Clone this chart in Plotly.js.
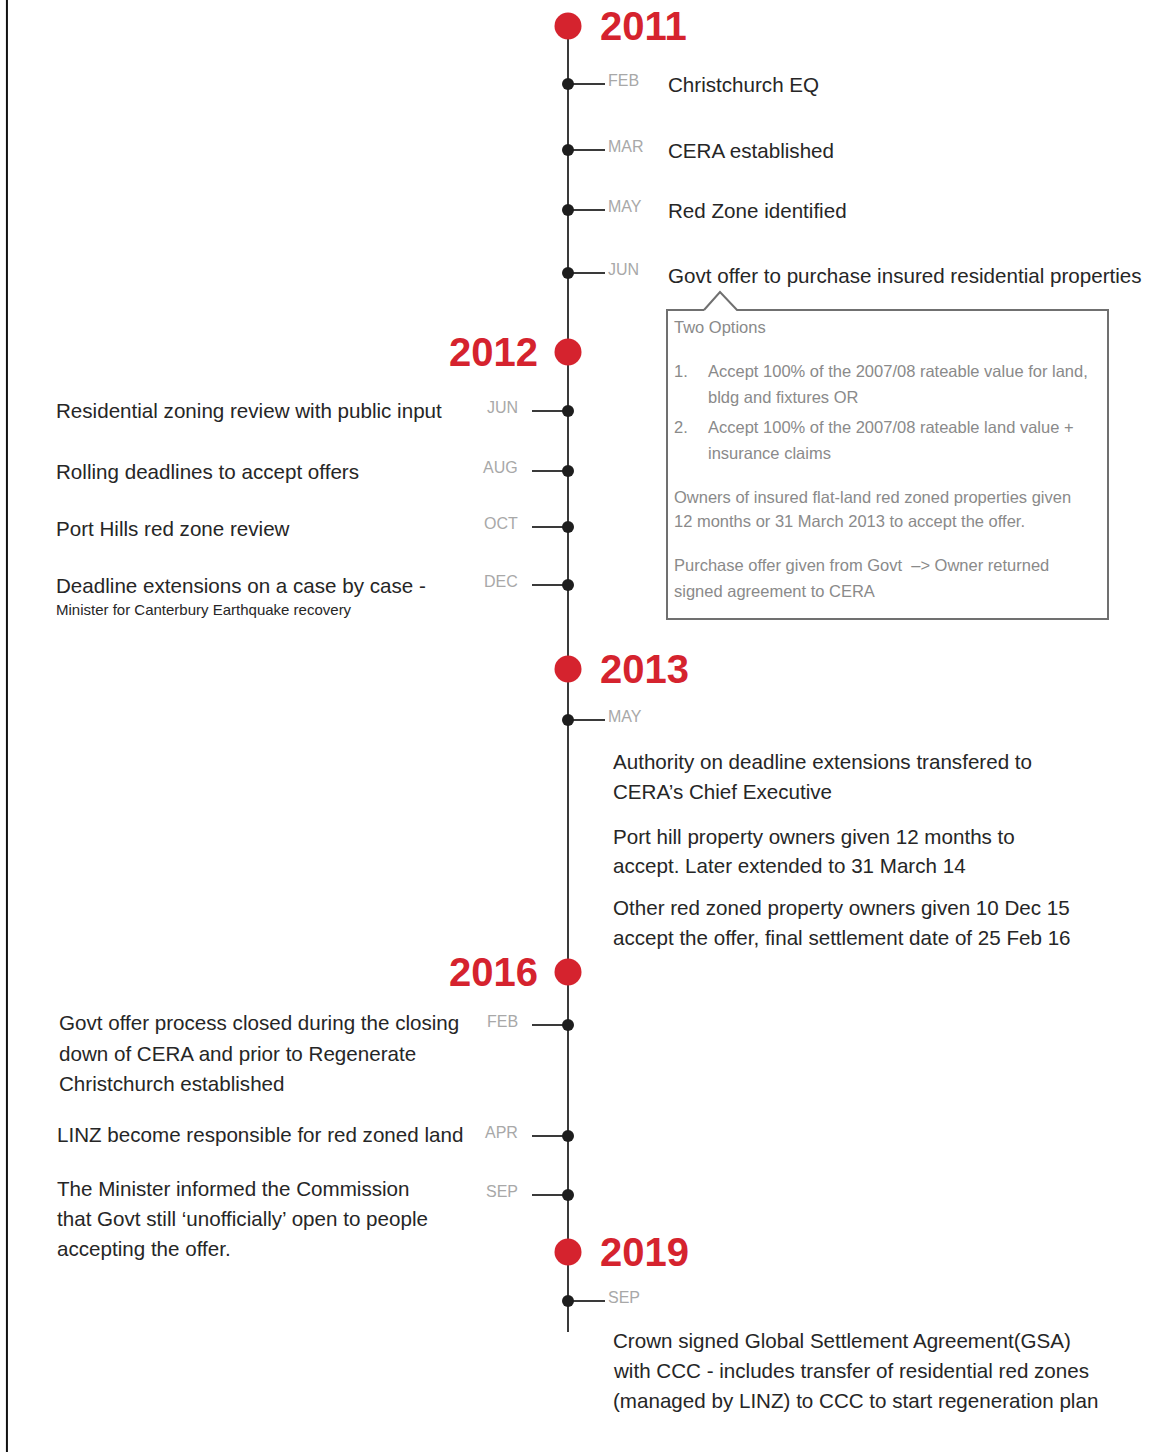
<!DOCTYPE html>
<html><head><meta charset="utf-8">
<script src="https://cdn.plot.ly/plotly-3.0.1.min.js"></script>
<style>html,body{margin:0;padding:0;background:#fff}#chart{width:1156px;height:1452px}</style>
</head><body><div id="chart"></div>
<script>
// ---------- data ----------
const years = ['2011', '2012', '2013', '2016', '2019'];
const eventYears = ['2011','2011','2011','2011','2012','2012','2012','2012','2013','2016','2016','2016','2019'];
const eventMonths = ['FEB','MAR','MAY','JUN','JUN','AUG','OCT','DEC','MAY','FEB','APR','SEP','SEP'];
const eventTexts = [
  ['Christchurch EQ'],
  ['CERA established'],
  ['Red Zone identified'],
  ['Govt offer to purchase insured residential properties'],
  ['Residential zoning review with public input'],
  ['Rolling deadlines to accept offers'],
  ['Port Hills red zone review'],
  ['Deadline extensions on a case by case -'],
  ['Authority on deadline extensions transfered to', 'CERA’s Chief Executive',
   'Port hill property owners given 12 months to', 'accept. Later extended to 31 March 14',
   'Other red zoned property owners given 10 Dec 15', 'accept the offer, final settlement date of 25 Feb 16'],
  ['Govt offer process closed during the closing', 'down of CERA and prior to Regenerate', 'Christchurch established'],
  ['LINZ become responsible for red zoned land'],
  ['The Minister informed the Commission', 'that Govt still ‘unofficially’ open to people', 'accepting the offer.'],
  ['Crown signed Global Settlement Agreement(GSA)', 'with CCC - includes transfer of residential red zones',
   '(managed by LINZ) to CCC to start regeneration plan']
];
const eventSubText = ['', '', '', '', '', '', '', 'Minister for Canterbury Earthquake recovery', '', '', '', '', ''];
const calloutLines = [
  'Two Options',
  '1.', 'Accept 100% of the 2007/08 rateable value for land,', 'bldg and fixtures OR',
  '2.', 'Accept 100% of the 2007/08 rateable land value +', 'insurance claims',
  'Owners of insured flat-land red zoned properties given', '12 months or 31 March 2013 to accept the offer.',
  'Purchase offer given from Govt  –> Owner returned', 'signed agreement to CERA'
];

// ---------- layout geometry (pixels) ----------
const AXIS_X = 568;
const yearRowY = [26, 352, 669, 972, 1252];
const yearSide = ['right', 'left', 'right', 'left', 'right'];
const lineEndY = 1332;
const eventTickY = [84, 150, 210, 273, 411, 471, 527, 585, 720, 1025, 1136, 1195, 1301];
const eventTextX = [666, 666, 666, 666, 54, 54, 54, 54, 611, 57, 55, 55, 611];
const eventTextY = [[84], [150], [210], [275], [410], [471], [528], [585],
                    [761, 791, 836, 865, 907, 937], [1022, 1053, 1083], [1134], [1188, 1218, 1248],
                    [1340, 1370, 1400]];
const subTextY = 609;
const calloutX = [672, 672, 706, 706, 672, 706, 706, 672, 672, 672, 672];
const calloutY = [327, 371, 371, 397, 427, 427, 453, 497, 521, 565, 591];
const box = {x0: 667, x1: 1108, y0: 310, y1: 619, px0: 704, pxA: 720, px1: 737, pyA: 292};

// ---------- styles ----------
const FONT = '"Liberation Sans", Arial, sans-serif';
const RED = '#d5232e';
const DARK = '#262626';
const LINE = '#3a3a3a';
const MONTHC = '#a8a8a8';
const BOXTXT = '#8a8a8a';

const sideOf = y => yearSide[years.indexOf(y)];

// timeline spine
const traces = [];
traces.push({x: [AXIS_X, AXIS_X], y: [yearRowY[0], lineEndY], mode: 'lines',
  line: {color: LINE, width: 2}, hoverinfo: 'skip'});

// month ticks
const tx = [], ty = [];
eventMonths.forEach((m, i) => {
  const s = sideOf(eventYears[i]);
  const len = s === 'right' ? 37 : -36;
  tx.push(AXIS_X, AXIS_X + len, null);
  ty.push(eventTickY[i], eventTickY[i], null);
});
traces.push({x: tx, y: ty, mode: 'lines', line: {color: LINE, width: 2}, hoverinfo: 'skip'});
traces.push({x: eventMonths.map(() => AXIS_X), y: eventTickY, mode: 'markers',
  marker: {color: '#1e1e1e', size: 12}, hoverinfo: 'skip'});
traces.push({x: years.map(() => AXIS_X), y: yearRowY, mode: 'markers',
  marker: {color: RED, size: 27}, hoverinfo: 'skip'});

// callout box
traces.push({x: [box.px0, box.pxA, box.px1, box.x1, box.x1, box.x0, box.x0, box.px0],
  y: [box.y0, box.pyA, box.y0, box.y0, box.y1, box.y1, box.y0, box.y0],
  mode: 'lines', fill: 'toself', fillcolor: '#ffffff', line: {color: '#707070', width: 2}, hoverinfo: 'skip'});

const ann = [];
years.forEach((yr, i) => {
  const right = yearSide[i] === 'right';
  ann.push({x: right ? AXIS_X + 30 : AXIS_X - 28, y: yearRowY[i], text: '<b>' + yr + '</b>',
    xanchor: right ? 'left' : 'right', yanchor: 'middle', showarrow: false,
    font: {family: FONT, size: 40, color: RED}});
});
eventMonths.forEach((m, i) => {
  const right = sideOf(eventYears[i]) === 'right';
  ann.push({x: right ? AXIS_X + 38 : AXIS_X - 48, y: eventTickY[i] - 4, text: m,
    xanchor: right ? 'left' : 'right', yanchor: 'middle', showarrow: false,
    font: {family: FONT, size: 16, color: MONTHC}});
  eventTexts[i].forEach((line, j) => {
    ann.push({x: eventTextX[i], y: eventTextY[i][j], text: line,
      xanchor: 'left', yanchor: 'middle', align: 'left', showarrow: false,
      font: {family: FONT, size: 20.6, color: DARK}});
  });
  if (eventSubText[i]) {
    ann.push({x: eventTextX[i], y: subTextY, text: eventSubText[i], xanchor: 'left', yanchor: 'middle',
      showarrow: false, font: {family: FONT, size: 15, color: DARK}});
  }
});
calloutLines.forEach((t, i) => {
  ann.push({x: calloutX[i], y: calloutY[i], text: t, xanchor: 'left', yanchor: 'middle', showarrow: false,
    font: {family: FONT, size: 16.5, color: BOXTXT}});
});

const layout = {
  width: 1156, height: 1452, margin: {l: 0, r: 0, t: 0, b: 0},
  paper_bgcolor: '#ffffff', plot_bgcolor: '#ffffff', showlegend: false,
  xaxis: {range: [0, 1156], visible: false, fixedrange: true},
  yaxis: {range: [1452, 0], visible: false, fixedrange: true},
  annotations: ann,
  shapes: [{type: 'line', xref: 'paper', yref: 'paper', x0: 0.006, x1: 0.006, y0: 0, y1: 1,
    line: {color: '#111', width: 2}}]
};
Plotly.newPlot('chart', traces, layout, {displayModeBar: false, staticPlot: true});
</script></body></html>
